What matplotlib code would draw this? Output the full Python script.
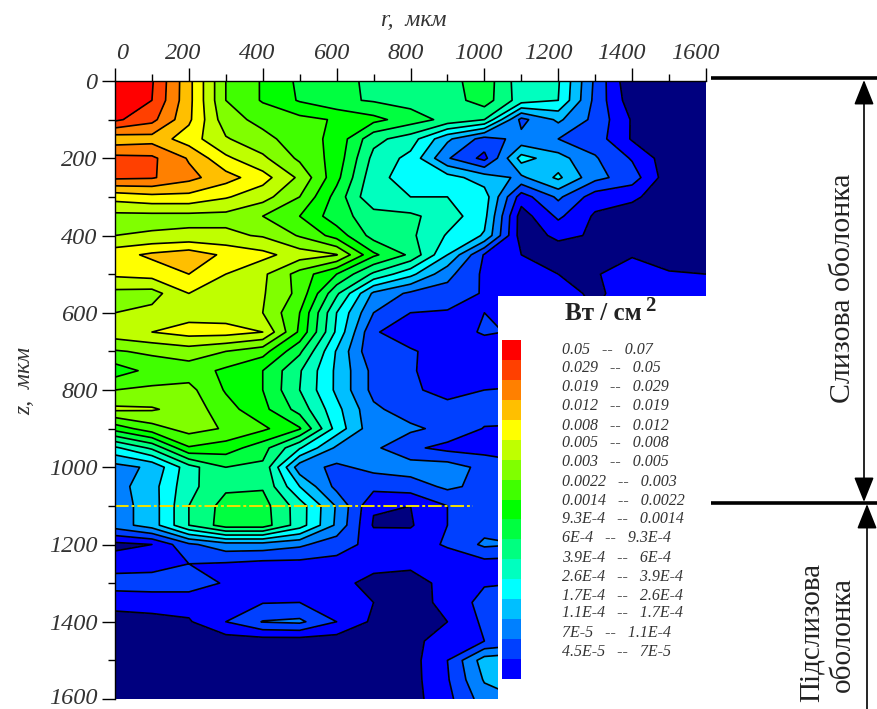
import matplotlib
matplotlib.use("Agg")
import matplotlib.pyplot as plt
from matplotlib.colors import ListedColormap
from matplotlib.patches import FancyArrowPatch, Rectangle
from matplotlib.transforms import ScaledTranslation
import numpy as np

plt.rcParams['font.family'] = ['Liberation Serif', 'DejaVu Serif']

# grid, values are band numbers (band k = k..k+1 of the legend scale)
r_values = list(range(0, 1700, 100))
z_values = list(range(0, 1650, 50))
n = np.nan

band_rows = [
    [18, 17.1, 14.3, 11, 9.9, 8.8, 8.3, 7.8, 7.6, 7.6, 8.6, 6.4, 6.1, 2.8, 0.1, 0.4, 0.4],
    [17.8, 17.0, 14.3, 11, 9.9, 8.9, 8.2, 7.9, 7.6, 7.5, 8.5, 6.5, 6.0, 2.7, 0.4, 0.4, 0.4],
    [17.2, 16.3, 14.2, 11.4, 10.7, 10.3, 9.9, 9.3, 8.5, 7.7, 7.0, 2.7, 4.2, 2.7, 0.9, 0.4, 0.4],
    [14.4, 14.6, 13.5, 12.1, 11.3, 10.5, 9.7, 7.3, 6.5, 4.2, 2.6, 3.3, 3.0, 2.5, 0.9, 0.4, 0.4],
    [16.3, 16.2, 14.9, 13.2, 12.2, 10.8, 9.6, 6.7, 5.7, 3.1, 1.7, 5.4, 4.4, 3.1, 1.9, 0.4, 0.4],
    [16.2, 16.1, 15.3, 14.4, 13.4, 11.8, 9.3, 6.3, 5.6, 5.4, 4.5, 3.8, 5.2, 3.3, 2.5, 0.4, 0.4],
    [13.4, 13.7, 13.7, 13.1, 12.4, 11, 8.6, 6.1, 6.0, 6.0, 5.5, 1.5, 3.2, 1.5, 1.2, 0.4, 0.4],
    [11.7, 11.7, 11.7, 11.7, 11, 10, 8.4, 7.5, 7.2, 6.5, 5.3, 0.5, 2.2, 0.85, 0.5, 0.4, 0.4],
    [12, 12.1, 12.2, 12.2, 11.9, 10.9, 9.6, 7.6, 7.2, 5.9, 4.9, 0.5, 1.2, 0.9, 0.4, 0.4, 0.4],
    [13.6, 14.2, 14.6, 13.8, 13.3, 12.5, 12.05, 9.2, 7.8, 5, 1.9, 1.0, 0.5, 0.6, 0.95, 0.75, 0.5],
    [13.2, 13.4, 14, 13, 12.2, 10.6, 9, 6.8, 5.3, 3.3, 1.8, 1.2, 1, 0.95, 1.3, 1.05, 1],
    [11.7, 11.6, 13, 12.5, 12.1, 10.7, 7.2, 3.8, 2.8, 2.6, 1.9, 1.3, 1.4, 0.8, 1.5, 1.5, 1.5],
    [12, 12.3, 12.6, 12.5, 12, 10, 6, 3, 2, 1.9, 2, 2, 1.5, 1.0, 1.5, 1.5, 1.5],
    [12.6, 13, 13.4, 13.4, 13, 9.8, 5.8, 2.1, 1.5, 1.6, 2.1, 1.9, n, n, n, n, n],
    [10.9, 11.2, 11.5, 11, 10.4, 8.2, 4.9, 2.1, 2.1, 1.6, 1.5, 1.6, n, n, n, n, n],
    [9.5, 10.3, 10.5, 9.8, 9, 7.1, 4.8, 2.7, 2.1, 1.5, 1.5, 1.5, n, n, n, n, n],
    [11, 11.2, 11.3, 9.9, 9, 7, 4.8, 2.7, 2.1, 1.8, 2, 2.1, n, n, n, n, n],
    [12.2, 12.1, 11.6, 10.4, 9.3, 7.6, 5.3, 3.2, 2.5, 2.2, 2.4, 2.4, n, n, n, n, n],
    [9.4, 10.6, 11.4, 10.9, 10.2, 9.1, 5.6, 3.3, 3.2, 2.7, 1.95, 1.9, n, n, n, n, n],
    [5.8, 7.2, 9.9, 9.5, 8.4, 6.1, 3.8, 3.2, 2.2, 1.7, 1.6, 1.6, n, n, n, n, n],
    [3.6, 4.2, 6.6, 8, 7.8, 3.4, 2.8, 3.3, 3.5, 3.5, 2.7, 2.2, n, n, n, n, n],
    [3.6, 4.6, 6.7, 7.8, 7.9, 5, 2.7, 2.3, 2.5, 3.2, 2.7, 2.3, n, n, n, n, n],
    [3.5, 4.5, 7, 8.4, 8.4, 6.5, 3.9, 1.1, 1, 2, 2.5, 2.5, n, n, n, n, n],
    [3.5, 4.5, 7, 8.5, 8.5, 6.5, 3.8, 0.9, 0.9, 2, 2.6, 2.6, n, n, n, n, n],
    [0.7, 1.0, 2.8, 3.6, 3.6, 3.2, 2.4, 1.7, 1.6, 2.1, 3.2, 3, n, n, n, n, n],
    [1.6, 1.6, 2, 1.9, 1.7, 1.7, 1.7, 1.2, 1.2, 1.5, 1.6, 1.5, n, n, n, n, n],
    [2.4, 2.5, 2.5, 1.9, 1.6, 1.5, 1.2, 0.8, 0.6, 1.3, 1.9, 2, n, n, n, n, n],
    [1.4, 1.4, 1.4, 1.9, 1.95, 2, 1.7, 1, 0.7, 1.2, 2.4, 2.5, n, n, n, n, n],
    [0.5, 0.7, 0.9, 2, 3.05, 3.2, 2, 0.8, 0.5, 1, 2.2, 2.3, n, n, n, n, n],
    [0.5, 0.5, 0.5, 0.5, 0.5, 0.5, 0.5, 0.5, 0.7, 1.5, 2, 2.5, n, n, n, n, n],
    [0.5, 0.5, 0.5, 0.5, 0.5, 0.5, 0.5, 0.5, 0.6, 2, 4.5, 4.8, n, n, n, n, n],
    [0.5, 0.5, 0.5, 0.5, 0.5, 0.5, 0.5, 0.5, 0.6, 1.9, 4.1, 4.5, n, n, n, n, n],
    [0.5, 0.5, 0.5, 0.5, 0.5, 0.5, 0.5, 0.5, 0.6, 1.7, 3.5, 4, n, n, n, n, n],
]

legend_colors = ['#ff0000', '#ff4000', '#ff8000', '#ffbf00', '#ffff00', '#bfff00',
                 '#80ff00', '#40ff00', '#00ff00', '#00ff40', '#00ff80', '#00ffbf',
                 '#00ffff', '#00bfff', '#0080ff', '#0040ff', '#0000ff']
below_color = '#00007f'
legend_labels = ['0.05   --   0.07', '0.029   --   0.05', '0.019   --   0.029', '0.012   --   0.019',
                 '0.008   --   0.012', '0.005   --   0.008', '0.003   --   0.005', '0.0022   --   0.003',
                 '0.0014   --   0.0022', '9.3E-4   --   0.0014', '6E-4   --   9.3E-4', '3.9E-4   --   6E-4',
                 '2.6E-4   --   3.9E-4', '1.7E-4   --   2.6E-4', '1.1E-4   --   1.7E-4', '7E-5   --   1.1E-4',
                 '4.5E-5   --   7E-5']
legend_y = [350, 368, 387, 406, 426, 443, 462, 482, 501, 519, 538, 558, 577, 596, 613, 633, 652]
tick_color = '#333333'

W, H = 877, 709
fig = plt.figure(figsize=(W / 100, H / 100), dpi=100)


def px_axes(x0, y0, x1, y1):
    return fig.add_axes([x0 / W, 1 - y1 / H, (x1 - x0) / W, (y1 - y0) / H])


# main contour plot
ax = px_axes(115, 81, 706, 699)
grid = np.array(band_rows, dtype=float)
levels = np.arange(0, 19)
fill_colors = [below_color] + legend_colors[::-1]
ax.contourf(r_values, z_values, grid, levels=levels, colors=fill_colors)
ax.contour(r_values, z_values, grid, levels=levels[1:-1], colors='black', linewidths=1.2,
           linestyles='solid')
ax.plot([0, 970], [1100, 1100], color='#f2e000', lw=1.4, ls=(0, (7, 1.5, 1.5, 1.5)))
ax.add_patch(Rectangle((1037, 557), 600, 1080, fc='white', ec='none', zorder=5, clip_on=False))

ax.set_xlim(0, 1600)
ax.set_ylim(1600, 0)
ax.xaxis.tick_top()
for side in ['right', 'bottom']:
    ax.spines[side].set_visible(False)
for side in ['top', 'left']:
    ax.spines[side].set_linewidth(1.0)
    ax.spines[side].set_zorder(6)

ticks = list(range(0, 1800, 200))
minor = list(range(100, 1600, 200))
ax.set_xticks(ticks)
ax.set_yticks(ticks)
ax.set_xticks(minor, minor=True)
ax.set_yticks(minor, minor=True)
ax.tick_params(which='major', length=9.5, width=1.0, labelsize=17.5, pad=3,
               labelcolor=tick_color)
ax.tick_params(which='minor', length=5, width=1.0)
x_shift = [7, -6, -6, -5, -5, -6, -10, -11, -11]
for lab, dx in zip(ax.get_xticklabels(), x_shift):
    lab.set_fontstyle('italic')
    lab.set_transform(lab.get_transform() + ScaledTranslation(dx / 100, 0, fig.dpi_scale_trans))
for lab in ax.get_yticklabels():
    lab.set_fontstyle('italic')
# keep the last z label inside the figure
last = ax.get_yticklabels()[-1]
last.set_transform(last.get_transform() + ScaledTranslation(0, 3 / 100, fig.dpi_scale_trans))

# colour scale inside the white box
cax = px_axes(502, 340, 521, 679)
cax.pcolormesh(np.arange(len(legend_colors))[:, None], cmap=ListedColormap(legend_colors),
               vmin=0, vmax=len(legend_colors) - 1)
cax.set_ylim(len(legend_colors), 0)
cax.axis('off')

# overlay in pixel coordinates for the texts and the layer marks
over = fig.add_axes([0, 0, 1, 1], zorder=10)
over.set_xlim(0, W)
over.set_ylim(H, 0)
over.axis('off')

for y, label in zip(legend_y, legend_labels):
    over.text(562, y, label, fontsize=11.5, style='italic', color='#333333', va='center')
over.text(565, 313, 'Вт / см', fontsize=18, fontweight='bold', color='#222222', va='center')
over.text(645, 306, '2', fontsize=15, fontweight='bold', color='#222222', va='center')

over.text(414, 20, 'r,  мкм', fontsize=17, style='italic', color=tick_color, ha='center', va='center')
over.text(25, 381, 'z,  мкм', fontsize=17, style='italic', color=tick_color, ha='center', va='center',
          rotation=90)

over.plot([711, 877], [78, 78], color='black', lw=2.6, solid_capstyle='butt')
over.plot([711, 877], [503, 503], color='black', lw=2.6, solid_capstyle='butt')
head = 'head_length=0.7,head_width=0.28'
over.add_patch(FancyArrowPatch((864, 80), (864, 502), arrowstyle='<|-|>,' + head, mutation_scale=22,
                               color='black', lw=1.2, shrinkA=0, shrinkB=0))
over.add_patch(FancyArrowPatch((867, 504), (867, 760), arrowstyle='<|-,' + head, mutation_scale=22,
                               color='black', lw=1.2, shrinkA=0, shrinkB=0))

over.text(843, 288, 'Слизова оболонка', fontsize=21.5, rotation=90, color='#222222',
          ha='center', va='center')
over.text(812, 632, 'Підслизова', fontsize=21, rotation=90, color='#222222', ha='center', va='center')
over.text(843, 635, 'оболонка', fontsize=21, rotation=90, color='#222222', ha='center', va='center')

fig.savefig('out.png', dpi=100)
